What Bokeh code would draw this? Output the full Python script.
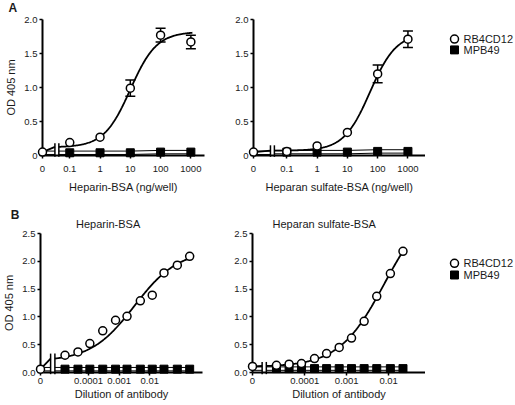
import numpy as np
from bokeh.plotting import figure
from bokeh.models import (FixedTicker, Range1d, Whisker, ColumnDataSource, TeeHead)
from bokeh.core.properties import value
from bokeh.layouts import row, column
from bokeh.embed import file_html
from bokeh.resources import INLINE

# ---------------- data ----------------
CONC_A = [0, 0.1, 1, 10, 100, 1000]                 # ng/well
CONC_A_LABELS = ["0", "0.1", "1", "10", "100", "1000"]

A1_RB = [0.05, 0.19, 0.27, 0.99, 1.77, 1.67]
A1_RB_ERR = [0, 0, 0, 0.12, 0.10, 0.10]
A1_MPB = [0.04, 0.04, 0.04, 0.04, 0.05, 0.05]
A1_FIT = [0.12, 1.82, 1.0, 1.0]          # bottom, top, log EC50, hill

A2_RB = [0.05, 0.06, 0.14, 0.34, 1.20, 1.71]
A2_RB_ERR = [0, 0, 0, 0, 0.13, 0.12]
A2_MPB = [0.04, 0.05, 0.05, 0.05, 0.06, 0.06]
A2_FIT = [0.07, 1.80, 1.75, 1.0]

DIL_B1 = [0, 1.7e-5, 4.5e-5, 1.1e-4, 2.9e-4, 7.6e-4, 1.8e-3, 4.9e-3,
          1.2e-2, 2.9e-2, 7.9e-2, 0.2]
B1_RB = [0.06, 0.31, 0.37, 0.52, 0.75, 0.94, 1.01, 1.29, 1.39, 1.79, 1.93, 2.09]
B1_MPB = [0.06, 0.06, 0.06, 0.06, 0.06, 0.06, 0.06, 0.06, 0.06, 0.06, 0.06, 0.06]
B1_FIT = [0.2, 2.2, -2.5, 0.61]

DIL_B2 = [0, 2.1e-5, 4.2e-5, 8.3e-5, 1.7e-4, 3.3e-4, 6.6e-4, 1.3e-3,
          2.6e-3, 5.2e-3, 1.1e-2, 2.2e-2]
B2_RB = [0.11, 0.13, 0.15, 0.16, 0.25, 0.34, 0.45, 0.62, 0.92, 1.37, 1.78, 2.18]
B2_MPB = [0.07, 0.07, 0.07, 0.07, 0.07, 0.07, 0.07, 0.07, 0.07, 0.07, 0.07, 0.07]
B2_FIT = [0.1, 3.1, -2.1, 0.8]

DIL_TICKS = [0, 1e-4, 1e-3, 1e-2]
DIL_LABELS = ["0", "0.0001", "0.001", "0.01"]

Y_TICKS_A = [0, 0.5, 1.0, 1.5, 2.0]
Y_LABELS_A = ["0", "0.5", "1.0", "1.5", "2.0"]
Y_TICKS_B = [0, 0.5, 1.0, 1.5, 2.0, 2.5]
Y_LABELS_B = ["0.0", "0.5", "1.0", "1.5", "2.0", "2.5"]

SERIES = ["RB4CD12", "MPB49"]

# ---------------- style ----------------
FONT = "Liberation Sans"
TXT = "#1a1a1a"
TICK_FS = "9.5px"
LABEL_FS = "11px"
CIRCLE = dict(marker="circle", size=8, fill_color="white", line_color="black",
              line_width=1.5)
SQUARE = dict(marker="square", size=8, fill_color="black", line_color="black")


def xpos(vals, zero):
    return [zero if v == 0 else float(np.log10(v)) for v in vals]


def fit4(x, p):
    b, t, logec, h = p
    return b + (t - b) / (1.0 + 10.0 ** ((logec - x) * h))


def to_data(w, h, border, xr, yr, fx, fy):
    L, R, T, B = border
    x = xr[0] + (fx - L) * (xr[1] - xr[0]) / ((w - R) - L)
    y = yr[0] + ((h - B) - fy) * (yr[1] - yr[0]) / ((h - B) - T)
    return x, y


def panel(geo, xvals, xlabels, yticks, ylabels, xlabel, ylabel,
          conc, rb, err, mpb, fit, brk, curve_end, sty):
    w, h, border, xr, yr = geo
    L, R, T, B = border
    p = figure(width=w, height=h, x_range=Range1d(*xr), y_range=Range1d(*yr),
               output_backend="svg", toolbar_location=None,
               min_border_left=L, min_border_right=R, min_border_top=T,
               min_border_bottom=B)
    p.outline_line_color = None
    p.xgrid.visible = False
    p.ygrid.visible = False
    p.background_fill_color = "white"

    zero = xr[0]
    xt = xpos(xvals, zero)
    p.xaxis.ticker = FixedTicker(ticks=xt)
    p.xaxis.major_label_overrides = {t: s for t, s in zip(xt, xlabels)}
    p.yaxis.ticker = FixedTicker(ticks=yticks)
    p.yaxis.major_label_overrides = {t: s for t, s in zip(yticks, ylabels)}
    for ax in (p.xaxis[0], p.yaxis[0]):
        ax.axis_line_width = 2
        ax.axis_line_color = "black"
        ax.major_tick_line_width = 1.5
        ax.major_tick_line_color = "black"
        ax.major_tick_out = 3
        ax.major_tick_in = 0
        ax.minor_tick_line_color = None
        ax.major_label_text_font = FONT
        ax.major_label_text_font_size = TICK_FS
        ax.major_label_text_color = TXT
        ax.axis_label_text_font = FONT
        ax.axis_label_text_font_size = LABEL_FS
        ax.axis_label_text_font_style = "normal"
        ax.axis_label_text_color = TXT
    p.xaxis.major_label_standoff = sty["x_std"]
    p.xaxis.axis_label_standoff = sty["x_lab_std"]
    p.yaxis.major_label_standoff = 2
    p.yaxis.axis_label_standoff = 4
    if xlabel:
        p.xaxis.axis_label = xlabel
    if ylabel:
        p.yaxis.axis_label = ylabel

    xs = xpos(conc, zero)
    bl, br, blo, bhi = brk
    for bx in (bl, br):
        p.line([bx, bx], [blo, bhi], line_color="black", line_width=1.5,
               level="overlay")

    # fitted curve (RB4CD12)
    cx = np.linspace(br, curve_end, 200)
    p.line([zero, bl], [rb[0], fit4(br, fit)], line_color="black",
           line_width=1.8, level="overlay")
    p.line(cx, fit4(cx, fit), line_color="black", line_width=1.8,
           level="overlay")

    # MPB49 connecting lines (double)
    d = sty["dbl"]
    for s in (-d, d):
        p.line([zero, bl], [mpb[0] + s, mpb[0] + s], line_color="black",
               line_width=1, level="overlay")
        p.line([br] + xs[1:], [mpb[1] + s] + [v + s for v in mpb[1:]],
               line_color="black", line_width=1, level="overlay")

    ex = [x for x, e in zip(xs, err) if e > 0]
    if ex:
        src = ColumnDataSource(dict(
            x=ex,
            up=[v + e for v, e in zip(rb, err) if e > 0],
            lo=[v - e for v, e in zip(rb, err) if e > 0]))
        p.add_layout(Whisker(source=src, base="x", upper="up", lower="lo",
                             line_width=1.5, line_color="black",
                             upper_head=TeeHead(size=10, line_width=1.5),
                             lower_head=TeeHead(size=10, line_width=1.5)))

    p.scatter(xs[1:], mpb[1:], level="overlay", **SQUARE)
    p.scatter(xs, rb, level="overlay", **CIRCLE)
    return p


def add_text(p, geo, fx, fy, text, size, bold=False):
    x, y = to_data(*geo, fx, fy)
    p.text([x], [y], text=[text], text_font=value(FONT), text_font_size=size,
           text_color=TXT, text_font_style="bold" if bold else "normal",
           text_align="left", text_baseline="middle", level="overlay")


def legend_fig(w, h, top, pitch):
    # a key for the two series, in a small figure whose units are pixels
    lf = figure(width=w, height=h, x_range=Range1d(0, w), y_range=Range1d(h, 0),
                output_backend="svg", toolbar_location=None,
                min_border_left=0, min_border_right=0, min_border_top=0,
                min_border_bottom=0)
    lf.xaxis.visible = False
    lf.yaxis.visible = False
    lf.xgrid.visible = False
    lf.ygrid.visible = False
    lf.outline_line_color = None
    ys = [top + i * pitch for i in range(len(SERIES))]
    for yy, sty in zip(ys, (CIRCLE, SQUARE)):
        lf.scatter([29], [yy], **sty)
    lf.text([38] * len(SERIES), ys, text=SERIES, text_font=value(FONT),
            text_font_size="11px", text_color=TXT, text_align="left",
            text_baseline="middle")
    return lf


STY_A = dict(x_std=7, x_lab_std=6, dbl=0.025)
STY_B = dict(x_std=2, x_lab_std=1, dbl=0.031)

# ---- A1 ----
gA1 = (213, 208, (42, 9, 19, 53), (-1.9, 3.45), (0, 2.0))
a1 = panel(gA1, CONC_A, CONC_A_LABELS, Y_TICKS_A, Y_LABELS_A,
           "Heparin-BSA (ng/well)", "OD 405 nm",
           CONC_A, A1_RB, A1_RB_ERR, A1_MPB, A1_FIT,
           (-1.49, -1.36, -0.02, 0.18), 3.05, STY_A)
add_text(a1, gA1, 8, 7, "A", "12px", bold=True)

# ---- A2 ----
gA2 = (212, 208, (40, 0, 19, 53), (-2.1, 3.58), (0, 2.0))
a2 = panel(gA2, CONC_A, CONC_A_LABELS, Y_TICKS_A, Y_LABELS_A,
           "Heparan sulfate-BSA (ng/well)", None,
           CONC_A, A2_RB, A2_RB_ERR, A2_MPB, A2_FIT,
           (-1.54, -1.41, -0.02, 0.15), 3.05, STY_A)
legA = legend_fig(89, 208, 30, 16.5)

# ---- B1 ----
gB1 = (213, 196, (38, 11, 25, 32), (-5.57, -0.28), (0, 2.5))
b1 = panel(gB1, DIL_TICKS, DIL_LABELS, Y_TICKS_B, Y_LABELS_B,
           "Dilution of antibody", "OD 405 nm",
           DIL_B1, B1_RB, [0] * len(B1_RB), B1_MPB, B1_FIT,
           (-5.24, -5.10, -0.03, 0.34), float(np.log10(DIL_B1[-1])), STY_B)
add_text(b1, gB1, 8, 6.5, "B", "12px", bold=True)
add_text(b1, gB1, 74, 15, "Heparin-BSA", LABEL_FS)

# ---- B2 ----
gB2 = (212, 196, (39, 0, 25, 32), (-5.25, -1.12), (0, 2.5))
b2 = panel(gB2, DIL_TICKS, DIL_LABELS, Y_TICKS_B, Y_LABELS_B,
           "Dilution of antibody", None,
           DIL_B2, B2_RB, [0] * len(B2_RB), B2_MPB, B2_FIT,
           (-5.02, -4.92, -0.03, 0.19), float(np.log10(DIL_B2[-1])), STY_B)
add_text(b2, gB2, 59, 15, "Heparan sulfate-BSA", LABEL_FS)
legB = legend_fig(89, 196, 42, 16.5)

layout = column(row(a1, a2, legA), row(b1, b2, legB))
open("out.html", "w").write(file_html(layout, INLINE))
